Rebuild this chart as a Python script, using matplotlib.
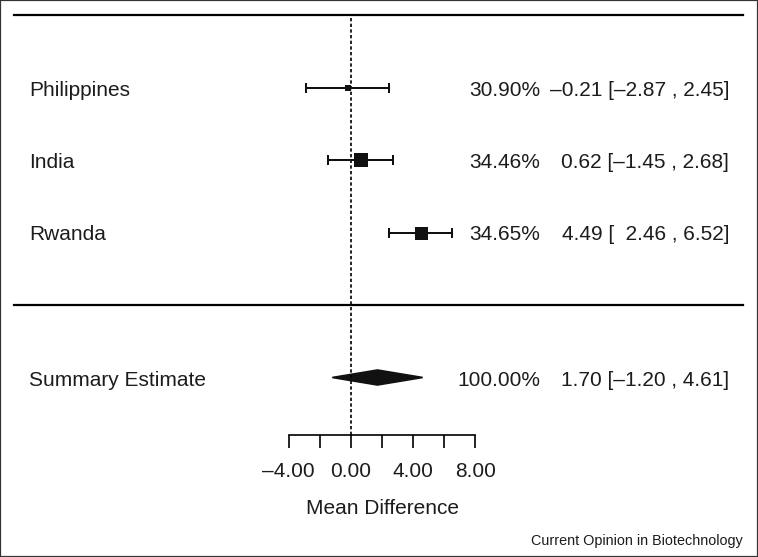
import matplotlib.pyplot as plt
from matplotlib.patches import Polygon, Rectangle

plt.rcParams['font.family'] = ['Liberation Sans', 'DejaVu Sans']

# study data
studies = ['Philippines', 'India', 'Rwanda']
est = [-0.21, 0.62, 4.49]
ci_lo = [-2.87, -1.45, 2.46]
ci_hi = [2.45, 2.68, 6.52]
weights = [30.90, 34.46, 34.65]

# summary estimate
sum_label = 'Summary Estimate'
sum_est = 1.70
sum_lo = -1.20
sum_hi = 4.61
sum_weight = 100.00

xticks = [-4, -2, 0, 2, 4, 6, 8]
xtick_labels = ['\u20134.00', '', '0.00', '', '4.00', '', '8.00']

rows = [3, 2, 1]
sum_row = -1
box_px = [6.5, 13.5, 13]   # marker side in pixels
ink = '#1c1c1c'


def num(v):
    s = f'{abs(v):.2f}'
    return ('\u2013' + s) if v < 0 else s


def fmt_est(e, lo, hi):
    lo_s = num(lo) if lo < 0 else '  ' + num(lo)
    return f'{num(e)} [{lo_s} , {num(hi)}]'


fig = plt.figure(figsize=(7.58, 5.57), dpi=100)
ax = fig.add_axes([0, 0, 1, 1])

px_x = 15.55          # pixels per unit on x
x0 = 351              # pixel of x = 0
px_y = 72.5           # pixels per row
top = 4 + 15 / px_y
ax.set_xlim(-x0 / px_x, (758 - x0) / px_x)
ax.set_ylim(top - 557 / px_y, top)
dy = 2.5 / px_y       # text nudged down a little

# horizontal separators
ax.axhline(4, xmin=14 / 758, xmax=743 / 758, color='black', lw=1.6)
ax.axhline(0, xmin=14 / 758, xmax=743 / 758, color='black', lw=1.6)

# reference line at zero
axis_row = top - 434.7 / px_y
ax.plot([0, 0], [axis_row, 4], color='black', lw=1.2,
        linestyle=(0, (2.0, 1.4)))

# study estimates with CI
xerr = [[e - l for e, l in zip(est, ci_lo)], [h - e for e, h in zip(est, ci_hi)]]
ax.errorbar(est, rows, xerr=xerr, fmt='none', ecolor='#111111', elinewidth=1.45,
            capsize=3.6, capthick=1.45)
for e, r, b in zip(est, rows, box_px):
    ax.plot(e, r, marker='s', markersize=b * 0.72, color='#111111',
            markeredgewidth=0, linestyle='none')

# summary diamond
h = 7.5 / px_y
ax.add_patch(Polygon([(sum_lo, sum_row), (sum_est, sum_row + h),
                      (sum_hi, sum_row), (sum_est, sum_row - h)],
                     closed=True, facecolor='#111111', edgecolor='#111111', lw=1.2))

# labels
fs = 15
x_name = (29 - x0) / px_x
x_wt = (540 - x0) / px_x
x_es = (729 - x0) / px_x
for name, r, w, e, lo, hi in zip(studies, rows, weights, est, ci_lo, ci_hi):
    ax.text(x_name, r - dy, name, ha='left', va='center', fontsize=fs, color=ink)
    ax.text(x_wt, r - dy, f'{w:.2f}%', ha='right', va='center', fontsize=fs, color=ink)
    ax.text(x_es, r - dy, fmt_est(e, lo, hi), ha='right', va='center', fontsize=fs, color=ink)

ax.text(x_name, sum_row - dy, sum_label, ha='left', va='center', fontsize=fs, color=ink)
ax.text(x_wt, sum_row - dy, f'{sum_weight:.2f}%', ha='right', va='center', fontsize=fs, color=ink)
ax.text(x_es, sum_row - dy, fmt_est(sum_est, sum_lo, sum_hi), ha='right', va='center',
        fontsize=fs, color=ink)

# x axis
for s in ['top', 'left', 'right']:
    ax.spines[s].set_visible(False)
ax.spines['bottom'].set_position(('data', axis_row))
ax.spines['bottom'].set_bounds(xticks[0], xticks[-1])
ax.spines['bottom'].set_linewidth(1.2)
ax.set_xticks(xticks)
ax.set_xticklabels(xtick_labels)
ax.tick_params(axis='x', direction='out', length=9.5, width=1.2, pad=10,
               labelsize=fs, labelcolor=ink)
ax.set_yticks([])
ax.text((xticks[0] + xticks[-1]) / 2, top - 509 / px_y, 'Mean Difference',
        ha='center', va='center', fontsize=fs, color=ink)

fig.text(743 / 758, 1 - 541 / 557, 'Current Opinion in Biotechnology',
         ha='right', va='center', fontsize=10.4, color=ink)

fig.patches.append(Rectangle((0, 0), 1, 1, transform=fig.transFigure, fill=False,
                             edgecolor='#333333', lw=1.6, clip_on=False))

fig.savefig('out.png', dpi=100)
